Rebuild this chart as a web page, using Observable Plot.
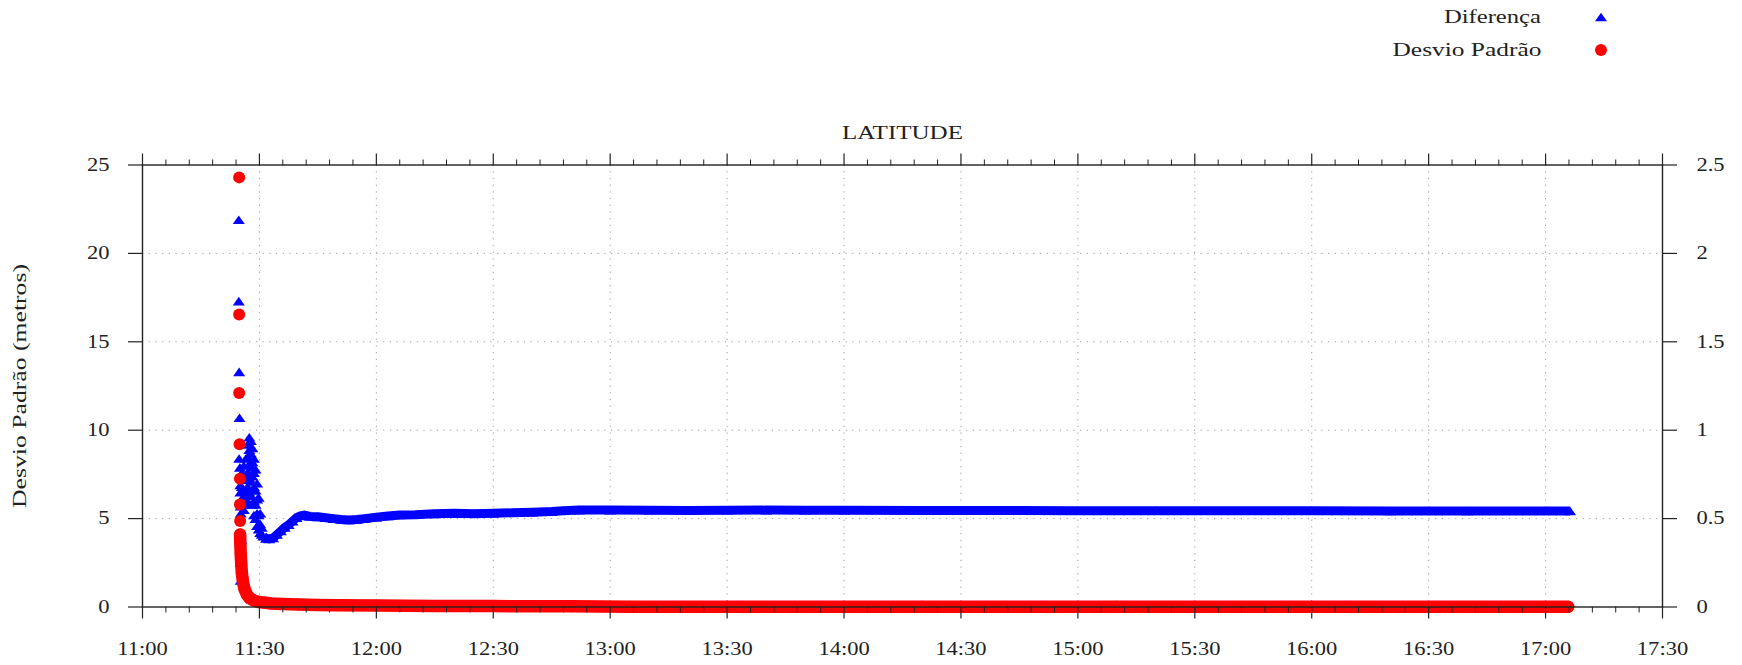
<!DOCTYPE html>
<html>
<head>
<meta charset="utf-8">
<script src="https://cdn.jsdelivr.net/npm/d3@7"></script>
<script src="https://cdn.jsdelivr.net/npm/@observablehq/plot@0.6"></script>
<style>
  body { margin: 0; background: #fff; font-family: "Liberation Serif", "DejaVu Serif", serif; }
  #legend { position: relative; width: 1742px; height: 70px; }
  .lg-text { position: absolute; right: 201px; font-size: 18px; color: #222; line-height: 20px; white-space: nowrap; transform-origin: right center; }
  .lg-mark { position: absolute; left: 1594px; }
</style>
</head>
<body>
<div id="legend"></div>
<div id="chart"></div>
<script>
// ---- data (minutes after 11:00) ----
const title = "LATITUDE";
const yLabel = "Desvio Padrão (metros)";
const seriesNames = ["Diferença", "Desvio Padrão"];
const seriesColors = ["#0000ff", "#ff0000"];
const xTickLabels = ["11:00","11:30","12:00","12:30","13:00","13:30","14:00","14:30","15:00","15:30","16:00","16:30","17:00","17:30"];
const leftTicks = [0, 5, 10, 15, 20, 25];
const rightTicks = [0, 0.5, 1, 1.5, 2, 2.5];

// Diferença (right axis units)
const difMin = [
  24.7, 24.7, 24.8, 24.9, 24.8, 25.0, 25.1, 25.1, 25.2, 25.2, 25.3, 25.2, 25.2,
  25.5, 25.5, 25.5,
  26.0, 26.0, 26.0, 26.0,
  26.5, 26.5, 26.5, 26.5,
  27.0, 27.0, 27.0, 27.0, 27.0,
  27.4, 27.4, 27.4, 27.4, 27.4,
  27.8, 27.8, 27.8, 27.8, 27.8,
  28.2, 28.2, 28.2, 28.2, 28.2,
  28.6, 28.6, 28.6, 28.6, 28.6,
  29.0, 29.0, 29.0, 29.0,
  29.4, 29.4, 29.4, 29.4,
  29.8, 29.8, 29.8,
  30.2, 30.2, 30.2,
  30.6, 30.6,
  31.0, 31.7, 32.5, 33.5, 34.5, 35.5, 36.5, 37.5, 38.5, 39.5, 40.5, 41.5, 43, 45, 47, 49, 51, 53, 55, 57,
  60, 63, 66, 70, 75, 80, 85, 90, 95, 100, 105, 108, 112, 120, 130, 140, 150, 160, 170, 180,
  200, 220, 240, 260, 280, 300, 320, 340, 366.3
];
const difVal = [
  2.19, 1.73, 1.33, 1.07, 0.84, 0.79, 0.69, 0.65, 0.57, 0.53, 0.38, 0.25, 0.15,
  0.60, 0.68, 0.76,
  0.55, 0.63, 0.72, 0.80,
  0.58, 0.66, 0.74, 0.84,
  0.60, 0.68, 0.76, 0.85, 0.92,
  0.65, 0.73, 0.81, 0.89, 0.96,
  0.63, 0.71, 0.79, 0.87, 0.94,
  0.58, 0.66, 0.74, 0.82, 0.90,
  0.52, 0.60, 0.68, 0.76, 0.84,
  0.50, 0.58, 0.66, 0.78,
  0.46, 0.53, 0.61, 0.70,
  0.44, 0.52, 0.62,
  0.42, 0.47, 0.53,
  0.41, 0.45,
  0.400, 0.388, 0.385, 0.390, 0.410, 0.430, 0.450, 0.465, 0.485, 0.505, 0.515, 0.520, 0.512, 0.510, 0.505, 0.500, 0.495, 0.492, 0.495, 0.500,
  0.508, 0.515, 0.520, 0.522, 0.527, 0.530, 0.528, 0.530, 0.533, 0.536, 0.540, 0.545, 0.548, 0.548, 0.547, 0.546, 0.547, 0.548, 0.547, 0.547,
  0.546, 0.546, 0.545, 0.545, 0.544, 0.544, 0.543, 0.543, 0.543
];

// Desvio Padrão (left axis units, metros)
const sdMin = [
  24.8, 24.8, 24.8, 24.9, 25.0, 25.0,
  25.05, 25.05, 25.1, 25.2, 25.35, 25.5, 25.8, 26.2, 26.8, 27.5, 28.5, 29.5, 31, 33, 36, 40, 45, 50,
  60, 75, 90, 110, 125, 150, 200, 250, 300, 365.8
];
const sdVal = [
  24.3, 16.55, 12.1, 9.2, 7.25, 5.8,
  4.86, 4.1, 3.6, 3.0, 2.4, 1.9, 1.4, 1.0, 0.7, 0.5, 0.38, 0.3, 0.25, 0.2, 0.17, 0.14, 0.12, 0.1,
  0.08, 0.06, 0.05, 0.04, 0.02, 0.02, 0.01, 0.01, 0.01, 0.01
];

// ---- build ----
const base = Date.UTC(2000, 0, 1, 11, 0, 0);
const toDate = m => new Date(base + m * 60000);
const parseHM = s => { const [h, mm] = s.split(":").map(Number); return new Date(Date.UTC(2000, 0, 1, h, mm)); };
const majors = xTickLabels.map(parseHM);
const minors = d3.utcMinute.every(6).range(majors[0], majors[majors.length - 1]).filter(d => d.getUTCMinutes() % 30 !== 0);
const innerMajors = majors.slice(1, -1);
const dif = difMin.map((m, i) => ({t: toDate(m), m, v: difVal[i]}));
const sd = sdMin.map((m, i) => ({t: toDate(m), m, v: sdVal[i]}));
const difBand = dif.filter(d => d.m >= 30.9);
const sdBand = sd.slice(7);

const triangle = {
  draw(ctx) {
    const w = 12, h = 8.6;
    ctx.moveTo(0, -h / 2);
    ctx.lineTo(w / 2, h / 2);
    ctx.lineTo(-w / 2, h / 2);
    ctx.closePath();
  }
};

const axisColor = "#222";
const chart = Plot.plot({
  width: 1742,
  height: 595,
  marginLeft: 142,
  marginRight: 80,
  marginTop: 94.5,
  marginBottom: 58.5,
  style: {fontFamily: "'Liberation Serif', serif", fontSize: "16px", color: axisColor, background: "#fff"},
  x: {type: "utc", domain: [majors[0], majors[majors.length - 1]]},
  y: {domain: [0, 25]},
  marks: [
    Plot.gridX(innerMajors, {stroke: "#9a9a9a", strokeOpacity: 1, strokeDasharray: "1.2,5.5"}),
    Plot.gridY([5, 10, 15, 20], {stroke: "#9a9a9a", strokeOpacity: 1, strokeDasharray: "1.2,5.5"}),
    Plot.line(difBand, {x: "t", y: d => d.v * 10, stroke: seriesColors[0], strokeWidth: 9, strokeLinecap: "butt", strokeLinejoin: "round"}),
    Plot.dot(dif, {x: "t", y: d => d.v * 10, symbol: triangle, fill: seriesColors[0], stroke: null}),
    Plot.line(sdBand, {x: "t", y: "v", stroke: seriesColors[1], strokeWidth: 12.5, strokeLinecap: "round", strokeLinejoin: "round"}),
    Plot.dot(sd, {x: "t", y: "v", r: 6, fill: seriesColors[1], stroke: null}),
    Plot.frame({stroke: axisColor, strokeWidth: 1.4}),
    Plot.text([title], {frameAnchor: "top", dy: -39, fontSize: 18, fill: axisColor}),
    Plot.axisX({anchor: "bottom", ticks: majors, tickSize: 12, tickPadding: 23, tickFormat: d3.utcFormat("%H:%M"), fontSize: 18, label: null, stroke: axisColor, strokeWidth: 1.2}),
    Plot.axisX({anchor: "bottom", ticks: minors, tickSize: 6, fill: "none", stroke: axisColor, label: null}),
    Plot.axisX({anchor: "top", ticks: majors, tickSize: 12, fill: "none", stroke: axisColor, strokeWidth: 1.2, label: null}),
    Plot.axisX({anchor: "top", ticks: minors, tickSize: 6, fill: "none", stroke: axisColor, label: null}),
    Plot.axisY({anchor: "left", ticks: leftTicks, tickSize: 14, tickPadding: 19, fontSize: 18, stroke: axisColor, strokeWidth: 1.2, label: null}),
    Plot.axisY({anchor: "right", ticks: rightTicks.map(v => v * 10), tickFormat: (d, i) => String(rightTicks[i]), tickSize: 14, tickPadding: 20, fontSize: 18, stroke: axisColor, strokeWidth: 1.2, label: null}),
    Plot.text([yLabel], {frameAnchor: "left", textAnchor: "middle", dx: -122, rotate: -90, fontSize: 18, fill: axisColor})
  ]
});
document.getElementById("chart").append(chart);

// widen the serif text to the broad Computer-Modern look of the original
d3.select(chart).selectAll("text").each(function () {
  const txt = this.textContent;
  const natural = this.getComputedTextLength();
  let target = natural * 1.25;
  if (txt === title) target = 121;
  if (txt === yLabel) target = 244;
  this.setAttribute("textLength", target.toFixed(1));
  this.setAttribute("lengthAdjust", "spacingAndGlyphs");
});

// legend
const legend = document.getElementById("legend");
const rows = [17, 50];
const legendWidths = [97, 149];
seriesNames.forEach((name, i) => {
  const t = document.createElement("div");
  t.className = "lg-text";
  t.style.top = (rows[i] - 10) + "px";
  t.textContent = name;
  legend.append(t);
  const w = t.getBoundingClientRect().width;
  t.style.transform = `scaleX(${legendWidths[i] / w})`;
  const s = document.createElementNS("http://www.w3.org/2000/svg", "svg");
  s.setAttribute("width", 14); s.setAttribute("height", 14);
  s.setAttribute("class", "lg-mark");
  s.style.top = (rows[i] - 7) + "px";
  if (i === 0) {
    const p = document.createElementNS("http://www.w3.org/2000/svg", "path");
    p.setAttribute("d", "M7,2.7 L13,11.3 L1,11.3 Z");
    p.setAttribute("fill", seriesColors[0]);
    s.append(p);
  } else {
    const c = document.createElementNS("http://www.w3.org/2000/svg", "circle");
    c.setAttribute("cx", 7); c.setAttribute("cy", 7); c.setAttribute("r", 6);
    c.setAttribute("fill", seriesColors[1]);
    s.append(c);
  }
  legend.append(s);
});
</script>
</body>
</html>
